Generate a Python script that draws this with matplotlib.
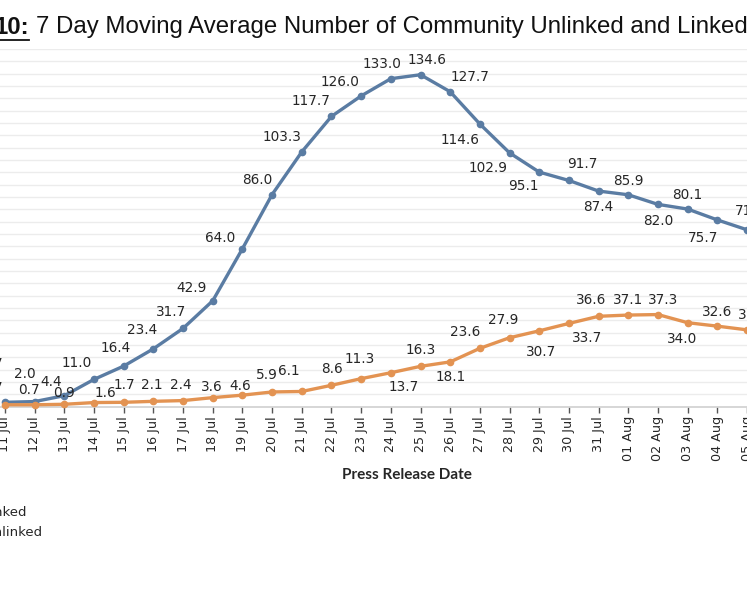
import numpy as np
import matplotlib
matplotlib.use("Agg")
import matplotlib.pyplot as plt
from matplotlib.lines import Line2D

# ---- data ----
dates = ["11 Jul", "12 Jul", "13 Jul", "14 Jul", "15 Jul", "16 Jul", "17 Jul", "18 Jul",
         "19 Jul", "20 Jul", "21 Jul", "22 Jul", "23 Jul", "24 Jul", "25 Jul", "26 Jul",
         "27 Jul", "28 Jul", "29 Jul", "30 Jul", "31 Jul", "01 Aug", "02 Aug", "03 Aug",
         "04 Aug", "05 Aug"]
linked = [1.7, 2.0, 4.4, 11.0, 16.4, 23.4, 31.7, 42.9, 64.0, 86.0, 103.3, 117.7, 126.0,
          133.0, 134.6, 127.7, 114.6, 102.9, 95.1, 91.7, 87.4, 85.9, 82.0, 80.1, 75.7, 71.7]
unlinked = [0.7, 0.7, 0.9, 1.6, 1.7, 2.1, 2.4, 3.6, 4.6, 5.9, 6.1, 8.6, 11.3, 13.7, 16.3,
            18.1, 23.6, 27.9, 30.7, 33.7, 36.6, 37.1, 37.3, 34.0, 32.6, 31.1]
series_names = ["Linked", "Unlinked"]
title_num = "10:"
title_text = "7 Day Moving Average Number of Community Unlinked and Linked"
xlabel = "Press Release Date"

# ---- label placement (pixel offsets, style only) ----
off_linked = [(-13, 38), (-10, 28), (-13, 14), (-17, 16), (-8, 18), (-11, 19), (-12, 16),
              (-21, 13), (-22, 11), (-15, 15), (-20, 15), (-20, 15), (-21, 14), (-9, 15),
              (6, 15), (20, 15), (-20, -16), (-21, -15), (-16, -14), (13, 16), (0, -16),
              (0, 14), (0, -17), (0, 14), (-14, -18), (3, 19)]
off_unlinked = [(-13, 17), (-6, 15), (0, 11), (11, 10), (1, 17), (-2, 16), (-2, 16),
                (-1, 11), (-2, 9), (-5, 17), (-13, 20), (0, 16), (-1, 20), (13, -14),
                (0, 16), (0, -15), (-15, 16), (-6, 18), (2, -21), (18, -15), (-8, 16),
                (0, 15), (5, 15), (-6, -16), (0, 14), (6, 15)]

c_blue = "#5a7ca3"
c_orange = "#e39352"

W, H = 747, 598
fig = plt.figure(figsize=(W / 100, H / 100), dpi=100)
fig.patch.set_facecolor("white")

ax_bottom_px = 406.5
ax_h_px = 357.4
ax = fig.add_axes([0, (H - ax_bottom_px) / H, 1, ax_h_px / H])
step = 29.78
ax.set_xlim(-5 / step, (W - 5) / step)
ax.set_ylim(0, 145)

x = np.arange(len(dates))
ax.plot(x, linked, color=c_blue, lw=2.4, marker="o", ms=4.5, clip_on=False, zorder=3)
ax.plot(x, unlinked, color=c_orange, lw=2.4, marker="o", ms=4.5, clip_on=False, zorder=3)

for xi, v, (dx, dy) in zip(x, linked, off_linked):
    ax.annotate(f"{v:.1f}", (xi, v), xytext=(dx, dy), textcoords="offset pixels",
                ha="center", va="center", fontsize=9.8, color="#262626",
                family="DejaVu Sans", annotation_clip=False, zorder=4)
for xi, v, (dx, dy) in zip(x, unlinked, off_unlinked):
    ax.annotate(f"{v:.1f}", (xi, v), xytext=(dx, dy), textcoords="offset pixels",
                ha="center", va="center", fontsize=9.8, color="#262626",
                family="DejaVu Sans", annotation_clip=False, zorder=4)

ax.set_yticks(np.arange(0, 150, 5))
ax.yaxis.grid(True, color="#ececec", lw=1)
ax.set_axisbelow(True)
ax.tick_params(axis="y", left=False, labelleft=False)
for s in ["top", "right", "left"]:
    ax.spines[s].set_visible(False)
ax.spines["bottom"].set_color("#d0d0d0")
ax.spines["bottom"].set_linewidth(1.2)

ax.set_xticks(x)
ax.set_xticklabels(dates, rotation=90, fontsize=9.2, color="#262626", family="DejaVu Sans")
ax.tick_params(axis="x", length=4, width=1, color="#555555", pad=3)

fig.text(407 / W, 1 - 475 / H, xlabel, ha="center", va="center", fontsize=11,
         fontweight="bold", family="Lato", color="#262626")

# legend text (markers lie outside the visible crop)
fig.text(27 / W, 1 - 512 / H, series_names[0], ha="right", va="center", fontsize=9.5,
         family="DejaVu Sans", color="#262626")
fig.text(43 / W, 1 - 533 / H, series_names[1], ha="right", va="center", fontsize=9.5,
         family="DejaVu Sans", color="#262626")

# title
t1 = fig.text(29 / W, 1 - 27 / H, title_num, ha="right", va="center", fontsize=17.3,
              fontweight="bold", family="Liberation Sans", color="#111111")
t2 = fig.text(36 / W, 1 - 27 / H, title_text, ha="left", va="center", fontsize=17.3,
              family="Liberation Sans", color="#111111")
fig.canvas.draw()
bb = t1.get_window_extent(renderer=fig.canvas.get_renderer())
fig.add_artist(Line2D([max(bb.x0, 0) / W, bb.x1 / W], [(bb.y0 - 1) / H, (bb.y0 - 1) / H],
                      color="#111111", lw=1.3, transform=fig.transFigure))

fig.savefig("out.png", dpi=100)
